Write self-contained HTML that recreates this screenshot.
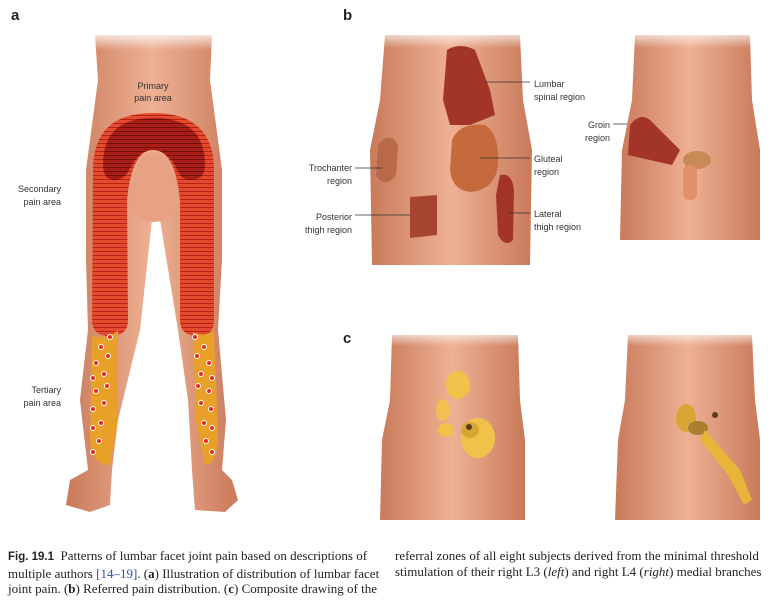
<!DOCTYPE html>
<html><head><style>
body{margin:0;background:#fff;width:783px;height:613px;overflow:hidden;font-family:"Liberation Sans",sans-serif}
.cap{position:absolute;top:548px;font-family:"Liberation Serif",serif;font-size:13px;line-height:15.5px;color:#222;white-space:nowrap}
</style></head><body>
<svg width="783" height="540" style="position:absolute;left:0;top:0" font-family="Liberation Sans" font-size="9" fill="#333">
<defs>
<linearGradient id="sk" x1="0" x2="1"><stop offset="0" stop-color="#c97a5a"/><stop offset=".5" stop-color="#eeb194"/><stop offset="1" stop-color="#c97a5a"/></linearGradient>
<linearGradient id="fade" x1="0" y1="0" x2="0" y2="1"><stop offset="0" stop-color="#fff" stop-opacity="1"/><stop offset="1" stop-color="#fff" stop-opacity="0"/></linearGradient>
<pattern id="ln" width="4" height="4" patternUnits="userSpaceOnUse"><rect width="4" height="4" fill="#e34a2e"/><rect y="3" width="4" height="1" fill="#b52418"/></pattern>
<pattern id="ln2" width="4" height="4" patternUnits="userSpaceOnUse"><rect width="4" height="4" fill="#a81d14"/><rect y="3" width="4" height="1" fill="#6e0f0a"/></pattern>
</defs>
<text x="11" y="20" font-size="15" font-weight="bold" fill="#222">a</text>
<text x="343" y="20" font-size="15" font-weight="bold" fill="#222">b</text>
<text x="343" y="343" font-size="15" font-weight="bold" fill="#222">c</text>
<path d="M95 35 L212 35 L210 80 L218 140 L222 170 L222 260 L218 330 L226 420 L222 470 L232 480 L238 500 L225 512 L195 510 L192 470 L188 400 L178 330 L160 220 L152 220 L140 330 L118 420 L112 470 L110 505 L90 512 L66 505 L70 480 L88 470 L80 400 L88 330 L86 260 L86 170 L90 140 L98 80 Z" fill="url(#sk)"/>
<rect x="90" y="30" width="130" height="20" fill="url(#fade)"/>
<path d="M93 170 Q93 113 153 113 Q214 113 214 170 L214 320 Q214 336 198 336 Q180 336 180 320 L180 200 Q175 150 153 150 Q132 150 127 200 L128 320 Q128 336 110 336 Q92 336 92 320 Z" fill="url(#ln)"/>
<path d="M103 165 Q103 118 153 118 Q205 118 205 165 Q205 180 190 180 Q180 180 175 165 Q165 150 153 150 Q140 150 132 165 Q125 180 115 180 Q103 180 103 165 Z" fill="url(#ln2)"/>
<path d="M130 200 Q135 152 153 152 Q172 152 178 200 Q175 222 153 222 Q132 222 130 200 Z" fill="#e7a283"/>
<path d="M92 336 Q110 340 118 330 L118 420 L110 465 Q92 465 90 440 Z" fill="#e8a028"/>
<path d="M193 332 Q205 338 214 330 L218 440 Q216 465 205 465 L196 420 Z" fill="#e8a028"/>
<g fill="#e52a20" stroke="#fff" stroke-width="1">
<circle cx="110" cy="337" r="2.5"/><circle cx="101" cy="347" r="2.5"/><circle cx="108" cy="356" r="2.5"/><circle cx="96" cy="363" r="2.5"/><circle cx="104" cy="374" r="2.5"/><circle cx="93" cy="378" r="2.5"/><circle cx="107" cy="386" r="2.5"/><circle cx="96" cy="391" r="2.5"/><circle cx="104" cy="403" r="2.5"/><circle cx="93" cy="409" r="2.5"/><circle cx="101" cy="423" r="2.5"/><circle cx="93" cy="428" r="2.5"/><circle cx="99" cy="441" r="2.5"/><circle cx="93" cy="452" r="2.5"/>
<circle cx="195" cy="337" r="2.5"/><circle cx="204" cy="347" r="2.5"/><circle cx="197" cy="356" r="2.5"/><circle cx="209" cy="363" r="2.5"/><circle cx="201" cy="374" r="2.5"/><circle cx="212" cy="378" r="2.5"/><circle cx="198" cy="386" r="2.5"/><circle cx="209" cy="391" r="2.5"/><circle cx="201" cy="403" r="2.5"/><circle cx="211" cy="409" r="2.5"/><circle cx="204" cy="423" r="2.5"/><circle cx="212" cy="428" r="2.5"/><circle cx="206" cy="441" r="2.5"/><circle cx="212" cy="452" r="2.5"/>
</g>
<text x="153" y="89" text-anchor="middle">Primary</text><text x="153" y="101" text-anchor="middle">pain area</text>
<text x="61" y="192" text-anchor="end">Secondary</text><text x="61" y="205" text-anchor="end">pain area</text>
<text x="61" y="393" text-anchor="end">Tertiary</text><text x="61" y="406" text-anchor="end">pain area</text>
<path d="M385 35 L520 35 L523 100 L532 150 L530 265 L372 265 L370 150 L380 100 Z" fill="url(#sk)"/>
<rect x="370" y="28" width="165" height="20" fill="url(#fade)"/>
<path d="M447 50 Q460 42 475 50 L490 90 L495 115 L470 125 L450 125 L443 100 Z" fill="#a33428"/>
<path d="M452 140 Q460 122 485 125 Q500 135 498 165 Q495 190 470 192 Q452 190 450 170 Z" fill="#c46a3c"/>
<path d="M378 145 Q390 130 398 145 L396 175 Q385 190 376 175 Z" fill="#b86a48"/>
<path d="M410 197 L437 195 L437 235 L410 238 Z" fill="#a84530"/>
<path d="M500 175 Q512 172 514 190 L513 240 Q505 248 498 235 L496 195 Z" fill="#a33428"/>
<g stroke="#333" stroke-width="0.7"><line x1="485" y1="82" x2="530" y2="82"/><line x1="480" y1="158" x2="530" y2="158"/><line x1="508" y1="213" x2="530" y2="213"/><line x1="355" y1="168" x2="382" y2="168"/><line x1="355" y1="215" x2="410" y2="215"/><line x1="613" y1="124" x2="634" y2="124"/></g>
<text x="534" y="87">Lumbar</text><text x="534" y="100">spinal region</text>
<text x="534" y="162">Gluteal</text><text x="534" y="175">region</text>
<text x="534" y="217">Lateral</text><text x="534" y="230">thigh region</text>
<text x="352" y="171" text-anchor="end">Trochanter</text><text x="352" y="184" text-anchor="end">region</text>
<text x="352" y="220" text-anchor="end">Posterior</text><text x="352" y="233" text-anchor="end">thigh region</text>
<text x="610" y="128" text-anchor="end">Groin</text><text x="610" y="141" text-anchor="end">region</text>
<path d="M635 35 L750 35 L752 100 L760 150 L760 240 L620 240 L622 150 L632 100 Z" fill="url(#sk)"/>
<rect x="620" y="28" width="145" height="20" fill="url(#fade)"/>
<path d="M630 125 Q640 112 650 120 L680 150 L672 165 L628 155 Z" fill="#a33428"/>
<ellipse cx="697" cy="160" rx="14" ry="9" fill="#c98a55"/>
<rect x="683" y="165" width="14" height="35" rx="6" fill="#e0906a"/>
<path d="M392 335 L518 335 L520 400 L525 440 L525 520 L380 520 L382 440 L390 400 Z" fill="url(#sk)"/>
<rect x="380" y="328" width="150" height="18" fill="url(#fade)"/>
<ellipse cx="458" cy="385" rx="12" ry="14" fill="#f1c24a"/>
<ellipse cx="443" cy="410" rx="7" ry="11" fill="#f1c24a" opacity=".9"/>
<ellipse cx="446" cy="430" rx="8" ry="7" fill="#f1c24a"/>
<ellipse cx="478" cy="438" rx="17" ry="20" fill="#f1c24a"/>
<ellipse cx="470" cy="430" rx="9" ry="8" fill="#d8a635"/>
<circle cx="469" cy="427" r="3" fill="#5a3b20"/>
<path d="M628 335 L752 335 L755 400 L760 440 L760 520 L615 520 L618 440 L625 400 Z" fill="url(#sk)"/>
<rect x="615" y="328" width="150" height="18" fill="url(#fade)"/>
<ellipse cx="686" cy="418" rx="10" ry="14" fill="#d8a635"/>
<ellipse cx="698" cy="428" rx="10" ry="7" fill="#a88030"/>
<path d="M705 430 L740 470 L752 500 L744 505 L728 475 L700 440 Z" fill="#e8b43a"/>
<circle cx="715" cy="415" r="3" fill="#5a3b20"/>
</svg>
<div class="cap" style="left:8px"><b style="font-family:'Liberation Sans',sans-serif;font-size:11.5px">Fig. 19.1</b>&nbsp; Patterns of lumbar facet joint pain based on descriptions of<br>multiple authors <span style="color:#2a4fb0">[14–19]</span>. (<b>a</b>) Illustration of distribution of lumbar facet<br>joint pain. (<b>b</b>) Referred pain distribution. (<b>c</b>) Composite drawing of the</div>
<div class="cap" style="left:395px">referral zones of all eight subjects derived from the minimal threshold<br>stimulation of their right L3 (<i>left</i>) and right L4 (<i>right</i>) medial branches</div>
</body></html>
